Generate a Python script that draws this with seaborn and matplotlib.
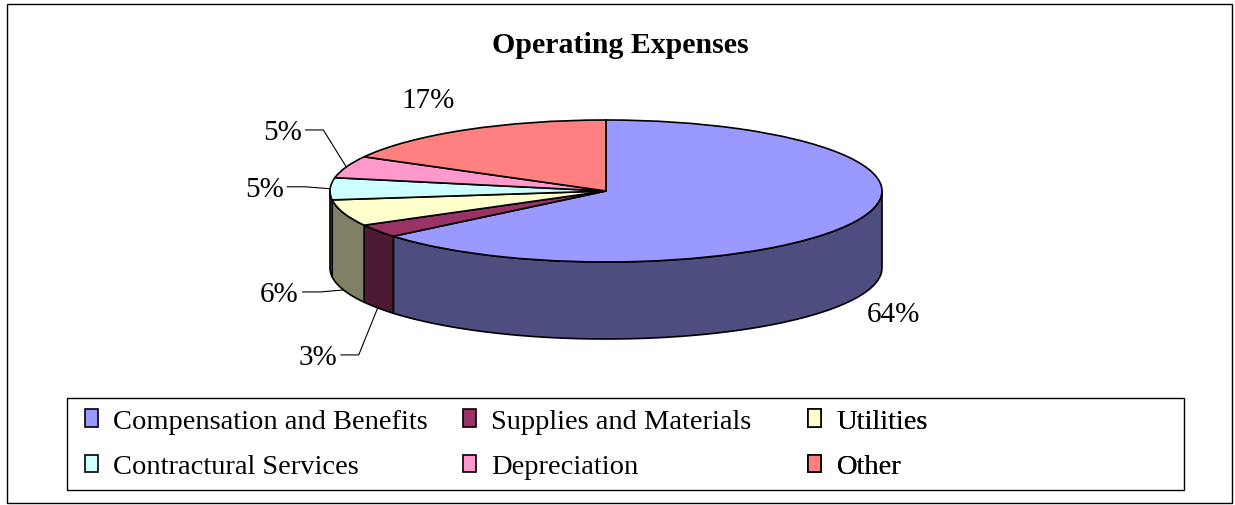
import numpy as np
import matplotlib.pyplot as plt
import seaborn as sns
from matplotlib.patches import Wedge, Polygon, Rectangle, Patch
from matplotlib.transforms import Affine2D

# data
categories = ["Compensation and Benefits", "Supplies and Materials", "Utilities",
              "Contractural Services", "Depreciation", "Other"]
values = [64, 3, 6, 5, 5, 17]
pct_labels = ["64%", "3%", "6%", "5%", "5%", "17%"]
colors = ["#9999FF", "#993366", "#FFFFCC", "#CCFFFF", "#FF99CC", "#FF8080"]

sns.set_theme(style="white")
plt.rcParams['font.family'] = ['Liberation Serif', 'DejaVu Serif']
plt.rcParams['text.color'] = 'black'

W, H = 1235, 506
fig = plt.figure(figsize=(W / 100, H / 100), dpi=100)
ax = fig.add_axes([0, 0, 1, 1])
ax.set_xlim(0, W)
ax.set_ylim(H, 0)
ax.axis('off')

# pie geometry (pixels)
cx, cy, rx, ry, depth = 606, 192, 276, 71, 77
to_px = Affine2D().scale(rx, -ry).translate(cx, cy) + ax.transData

palette = sns.color_palette(colors)
side = [tuple(v * 0.5 for v in col) for col in palette]

fracs = np.array(values) / sum(values)
starts = 90 - 360 * np.concatenate([[0], np.cumsum(fracs)[:-1]])
ends = starts - 360 * fracs
mids = (starts + ends) / 2


def ell(t, dy=0):
    t = np.radians(t)
    return cx + rx * np.cos(t), cy - ry * np.sin(t) + dy


# side walls (front half only)
for s, e, c in zip(starts, ends, side):
    lo, hi = max(e, -180), min(s, 0)
    if lo >= hi:
        continue
    t = np.linspace(lo, hi, 80)
    x, y = ell(t)
    xb, yb = ell(t, depth)
    pts = np.column_stack([np.r_[x, xb[::-1]], np.r_[y, yb[::-1]]])
    ax.add_patch(Polygon(pts, closed=True, fc=c, ec='black', lw=1.2, joinstyle='round'))

# top face
for s, e, c in zip(starts, ends, palette):
    ax.add_patch(Wedge((0, 0), 1, e, s, fc=c, ec='black', lw=1.2, transform=to_px))

# percentage labels
label_offsets = [(38, 16), (-60, 49), (-64, 4), (-66, 0), (-64, -35), (-37, -30)]
leaders = [False, True, True, True, True, False]
for m, txt, (dx, dy), lead in zip(mids, pct_labels, label_offsets, leaders):
    ax_, ay_ = ell(m, depth if np.sin(np.radians(m)) < 0 else 0)
    lx, ly = ax_ + dx, ay_ + dy
    ax.text(lx, ly, txt, fontsize=21, ha='center', va='center')
    if lead:
        ax.plot([lx + 23, lx + 41, ax_], [ly - 2, ly - 2, ay_], color='black', lw=0.8)

ax.text(620, 45, "Operating Expenses", fontsize=21.5, weight='bold', ha='center', va='center')

# outer border and legend box
ax.add_patch(Rectangle((7, 5), 1225, 499, fill=False, ec='black', lw=1, clip_on=False))
ax.add_patch(Rectangle((67, 399), 1117, 92, fill=False, ec='black', lw=1, clip_on=False))

handles = [Patch(fc=c, ec='black', lw=1.2) for c in palette]
col_x = [85, 463, 808]
for i, x0 in enumerate(col_x):
    leg = ax.legend([handles[i], handles[i + 3]], [categories[i], categories[i + 3]],
                    loc='upper left', bbox_to_anchor=(x0, 410), bbox_transform=ax.transData,
                    frameon=False, borderpad=0, borderaxespad=0, fontsize=20.5,
                    handlelength=0.45, handleheight=0.55, handletextpad=0.55,
                    labelspacing=0.72)
    ax.add_artist(leg)

fig.savefig("out.png", dpi=100)
